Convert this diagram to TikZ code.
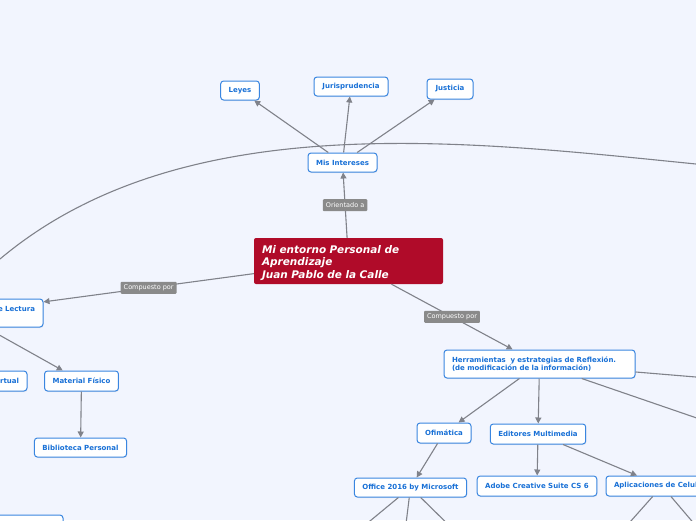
\documentclass[tikz,border=0pt]{standalone}
\usepackage{fontspec}
\setmainfont{DejaVu Sans}
\usetikzlibrary{arrows.meta,shadows}
\definecolor{bgc}{RGB}{242,245,254}
\definecolor{topictext}{RGB}{24,112,214}
\definecolor{topicborder}{RGB}{58,134,224}
\definecolor{mainfill}{RGB}{176,11,41}
\definecolor{conncol}{RGB}{128,130,138}
\definecolor{lblgray}{RGB}{138,138,138}
\tikzset{
  topic/.style={draw=topicborder, line width=1pt, fill=white, rounded corners=3pt,
    text=topictext, font=\fontsize{7}{8.5}\selectfont\bfseries, inner xsep=8pt, inner ysep=2pt,
    drop shadow={opacity=0.12, shadow xshift=0.6pt, shadow yshift=-1pt}},
  maintopic/.style={fill=mainfill, rounded corners=2pt, text=white,
    font=\fontsize{10.5}{12.5}\selectfont\bfseries\itshape, inner xsep=8pt, inner ysep=3pt,
    align=left},
  lbl/.style={fill=lblgray, text=white, rounded corners=1pt,
    font=\fontsize{6.5}{7}\selectfont, inner xsep=3pt, inner ysep=2pt, minimum height=12pt},
  conn/.style={draw=conncol, line width=1.1pt, -{Triangle[length=6pt,width=6pt]}},
  plain/.style={draw=conncol, line width=1.1pt}
}
\begin{document}
\begin{tikzpicture}[x=1pt,y=-1pt]
\useasboundingbox (0,0) rectangle (696,520);
\fill[bgc] (0,0) rectangle (696,520);
\clip (0,0) rectangle (696,520);

% big arc
\coordinate (arcA) at (0,259);
\coordinate (arcB) at (696,164);
\draw[plain] (arcA) .. controls (182,106) and (466,141) .. (arcB);

% nodes
\node[maintopic, text width=173pt, minimum height=46pt] (main) at (348.5,261)
  {\rule{0pt}{12pt}Mi entorno Personal de\\Aprendizaje\\Juan Pablo de la Calle};
\node[topic, minimum width=69pt, minimum height=19pt] (mis) at (342.5,162.5) {Mis Intereses};
\node[topic, minimum width=38pt, minimum height=19pt] (leyes) at (240,90.5) {Leyes};
\node[topic, minimum width=74pt, minimum height=19pt] (juris) at (351,86.5) {Jurisprudencia};
\node[topic, minimum width=46pt, minimum height=20pt] (just) at (450,89) {Justicia};

\node[topic, text width=150pt, align=right, minimum height=28pt] (lect) at (-40,313) {e Lectura\\\mbox{}};
\node[topic, text width=118pt, align=right, minimum height=20pt] (virt) at (-40,381) {irtual};
\node[topic, minimum width=73pt, minimum height=20pt] (matf) at (81.5,381) {Material Físico};
\node[topic, minimum width=91pt, minimum height=19pt] (bib) at (80.5,447.5) {Biblioteca Personal};
\node[topic, minimum width=93pt, minimum height=30pt] (bl) at (16.5,530) {};

\node[topic, text width=175pt, align=left, minimum height=28pt] (herr) at (539.5,364)
  {Herramientas\ \ y estrategias de Reflexión.\\(de modificación de la información)};
\node[topic, minimum width=54pt, minimum height=20pt] (ofi) at (444,433) {Ofimática};
\node[topic, minimum width=94pt, minimum height=20pt] (edit) at (538,434) {Editores Multimedia};
\node[topic, minimum width=111pt, minimum height=19pt] (office) at (410.5,487.5) {Office 2016 by Microsoft};
\node[topic, minimum width=118pt, minimum height=20pt] (adobe) at (537,486) {Adobe Creative Suite CS 6};
\node[topic, text width=96pt, align=left, minimum height=20pt] (apli) at (662,486) {Aplicaciones de Celul};

% free ends
\coordinate (r1) at (720,379);
\coordinate (r2) at (720,426);
\coordinate (o1) at (347,540);
\coordinate (o2) at (404,540);
\coordinate (o3) at (464,540);
\coordinate (a1) at (614,540);
\coordinate (a2) at (708,540);

% connectors
\draw[conn] (main) -- node[lbl]{Orientado a} (mis);
\draw[conn] (mis) -- (leyes);
\draw[conn] (mis) -- (juris);
\draw[conn] (mis) -- (just);
\draw[conn] (main) -- node[lbl, pos=0.5]{Compuesto por} (lect);
\draw[conn] (main) -- node[lbl]{Compuesto por} (herr);
\draw[conn] (lect) -- (matf);
\draw[conn] (matf) -- (bib);
\draw[conn] (herr) -- (ofi);
\draw[conn] (herr) -- (edit);
\draw[plain] (herr) -- (r1);
\draw[plain] (herr) -- (r2);
\draw[conn] (ofi) -- (office);
\draw[conn] (edit) -- (adobe);
\draw[conn] (edit) -- (apli);
\draw[plain] (office) -- (o1);
\draw[plain] (office) -- (o2);
\draw[plain] (office) -- (o3);
\draw[plain] (apli) -- (a1);
\draw[plain] (apli) -- (a2);
\end{tikzpicture}
\end{document}
